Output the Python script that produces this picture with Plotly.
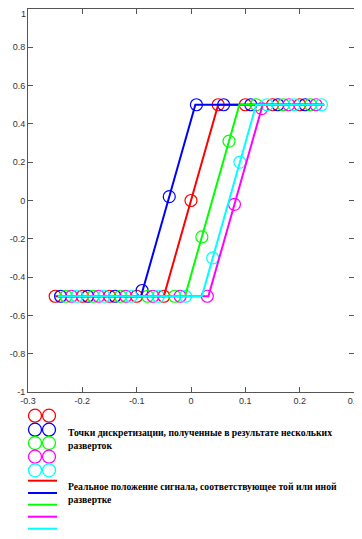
import plotly.graph_objects as go

# ---------------- data ----------------
sweep_names = ["red", "blue", "green", "magenta", "cyan"]
sweep_colors = ["#ff0000", "#0000ff", "#00ff00", "#ff00ff", "#00ffff"]

# sampled points (circles) of each sweep
red_x = [-0.25, -0.20, -0.15, -0.10, -0.05, 0.00, 0.05, 0.10, 0.15, 0.20]
red_y = [-0.5, -0.5, -0.5, -0.5, -0.5, 0.0, 0.5, 0.5, 0.5, 0.5]
blue_x = [-0.24, -0.19, -0.14, -0.09, -0.04, 0.01, 0.06, 0.11, 0.16, 0.21]
blue_y = [-0.5, -0.5, -0.5, -0.47, 0.02, 0.5, 0.5, 0.5, 0.5, 0.5]
green_x = [-0.23, -0.18, -0.13, -0.08, -0.03, 0.02, 0.07, 0.12, 0.17, 0.22]
green_y = [-0.5, -0.5, -0.5, -0.5, -0.5, -0.19, 0.31, 0.5, 0.5, 0.5]
magenta_x = [-0.22, -0.17, -0.12, -0.07, -0.02, 0.03, 0.08, 0.13, 0.18, 0.23]
magenta_y = [-0.5, -0.5, -0.5, -0.5, -0.5, -0.5, -0.02, 0.48, 0.5, 0.5]
cyan_x = [-0.21, -0.16, -0.11, -0.06, -0.01, 0.04, 0.09, 0.14, 0.19, 0.24]
cyan_y = [-0.5, -0.5, -0.5, -0.5, -0.5, -0.3, 0.2, 0.5, 0.5, 0.5]

# real signal position (piecewise-linear edges) of each sweep
signal_y = [-0.5, -0.5, 0.5, 0.5]
red_line_x = [-0.25, -0.05, 0.05, 0.245]
blue_line_x = [-0.245, -0.092, 0.008, 0.245]
green_line_x = [-0.245, -0.011, 0.089, 0.245]
magenta_line_x = [-0.245, 0.032, 0.132, 0.245]
cyan_line_x = [-0.245, 0.02, 0.12, 0.245]

x_ticks = [-0.3, -0.2, -0.1, 0, 0.1, 0.2, 0.3]
x_tick_labels = ["-0.3", "-0.2", "-0.1", "0", "0.1", "0.2", "0.3"]
y_ticks = [-1, -0.8, -0.6, -0.4, -0.2, 0, 0.2, 0.4, 0.6, 0.8, 1]
y_tick_labels = ["-1", "-0.8", "-0.6", "-0.4", "-0.2", "0", "0.2", "0.4", "0.6", "0.8", "1"]

legend_text_points = "Точки дискретизации, полученные в результате нескольких<br>разверток"
legend_text_lines = "Реальное положение сигнала, соответствующее той или иной<br>развертке"

samples = [(red_x, red_y), (blue_x, blue_y), (green_x, green_y),
           (magenta_x, magenta_y), (cyan_x, cyan_y)]
lines = [red_line_x, blue_line_x, green_line_x, magenta_line_x, cyan_line_x]

# ---------------- figure ----------------
fig = go.Figure()

for (sx, sy), name, col in zip(samples, sweep_names, sweep_colors):
    fig.add_trace(go.Scatter(
        x=sx, y=sy, mode="markers", name=name, showlegend=False,
        marker=dict(symbol="circle-open", size=12, color=col, line=dict(width=1.2, color=col)),
        cliponaxis=False))

for lx, name, col in zip(lines, sweep_names, sweep_colors):
    fig.add_trace(go.Scatter(
        x=lx, y=signal_y, mode="lines", name=name, showlegend=False,
        line=dict(color=col, width=2), cliponaxis=False))

# ---- hand-made legend, drawn on an auxiliary axis scaled in window pixels ----
leg_circle_cols = [35, 49]
leg_circle_rows = [415.7, 429.7, 443.0, 456.7, 470.3]
leg_line_rows = [480.7, 493.0, 504.7, 516.7, 528.7]
leg_line_x = [28, 57]

for row, col in zip(leg_circle_rows, sweep_colors):
    fig.add_trace(go.Scatter(
        x=leg_circle_cols, y=[row, row], xaxis="x2", yaxis="y2", mode="markers",
        showlegend=False, hoverinfo="skip", cliponaxis=False,
        marker=dict(symbol="circle-open", size=13, color=col, line=dict(width=1.3, color=col))))
for row, col in zip(leg_line_rows, sweep_colors):
    fig.add_trace(go.Scatter(
        x=leg_line_x, y=[row, row], xaxis="x2", yaxis="y2", mode="lines",
        showlegend=False, hoverinfo="skip", cliponaxis=False,
        line=dict(color=col, width=2)))

# the page body has an 8px default margin: size the figure to the remaining window
BODY = 8
WIN_W, WIN_H = 362, 539
W, H = WIN_W - BODY, WIN_H - BODY
frame_left, frame_right, frame_top, frame_bottom = 28, 354, 9, 392   # window px
ml = frame_left - BODY
mr = WIN_W - frame_right
mt = frame_top - BODY
mb = 0
ph = H - mt - mb
main_dom_bottom = (WIN_H - frame_bottom) / ph
leg_top = 395
leg_dom_top = (WIN_H - leg_top) / ph

tick_font = dict(family="Liberation Sans, Arial, sans-serif", size=9, color="#333333")
axis_common = dict(
    showline=True, linecolor="#555555", linewidth=1, mirror="ticks",
    ticks="inside", ticklen=5, tickcolor="#555555", tickwidth=1,
    showgrid=False, zeroline=False, automargin=False, ticklabeloverflow="allow",
    tickfont=tick_font,
)

# the top y label would fall above the page edge: it is drawn as an annotation below it
y_axis_text = y_tick_labels[:-1] + [""]

fig.update_layout(
    width=W, height=H,
    margin=dict(l=ml, r=mr, t=mt, b=mb, autoexpand=False),
    paper_bgcolor="white", plot_bgcolor="white",
    xaxis=dict(range=[-0.3, 0.3], tickvals=x_ticks, ticktext=x_tick_labels,
               domain=[0, 1], anchor="y", **axis_common),
    yaxis=dict(range=[-1, 1], tickvals=y_ticks, ticktext=y_axis_text,
               domain=[main_dom_bottom, 1], anchor="x", **axis_common),
    xaxis2=dict(range=[frame_left, frame_right], domain=[0, 1], anchor="y2",
                visible=False, fixedrange=True),
    yaxis2=dict(range=[WIN_H, leg_top], domain=[0, leg_dom_top], anchor="x2",
                visible=False, fixedrange=True),
    showlegend=False,
)

fig.add_annotation(
    x=0, y=y_ticks[-1], xref="paper", yref="y", xanchor="right", yanchor="top",
    xshift=-1, yshift=1, text=y_tick_labels[-1], showarrow=False, font=tick_font,
    borderpad=0)

fig.add_annotation(
    x=66, y=439.2, xref="x2", yref="y2", xanchor="left", yanchor="middle",
    text=legend_text_points, showarrow=False, align="left",
    font=dict(family="Liberation Serif, Times New Roman, serif", size=9.7, color="black", weight="bold"))
fig.add_annotation(
    x=66, y=492.5, xref="x2", yref="y2", xanchor="left", yanchor="middle",
    text=legend_text_lines, showarrow=False, align="left",
    font=dict(family="Liberation Serif, Times New Roman, serif", size=9.7, color="black", weight="bold"))

fig.write_html("out.html")
